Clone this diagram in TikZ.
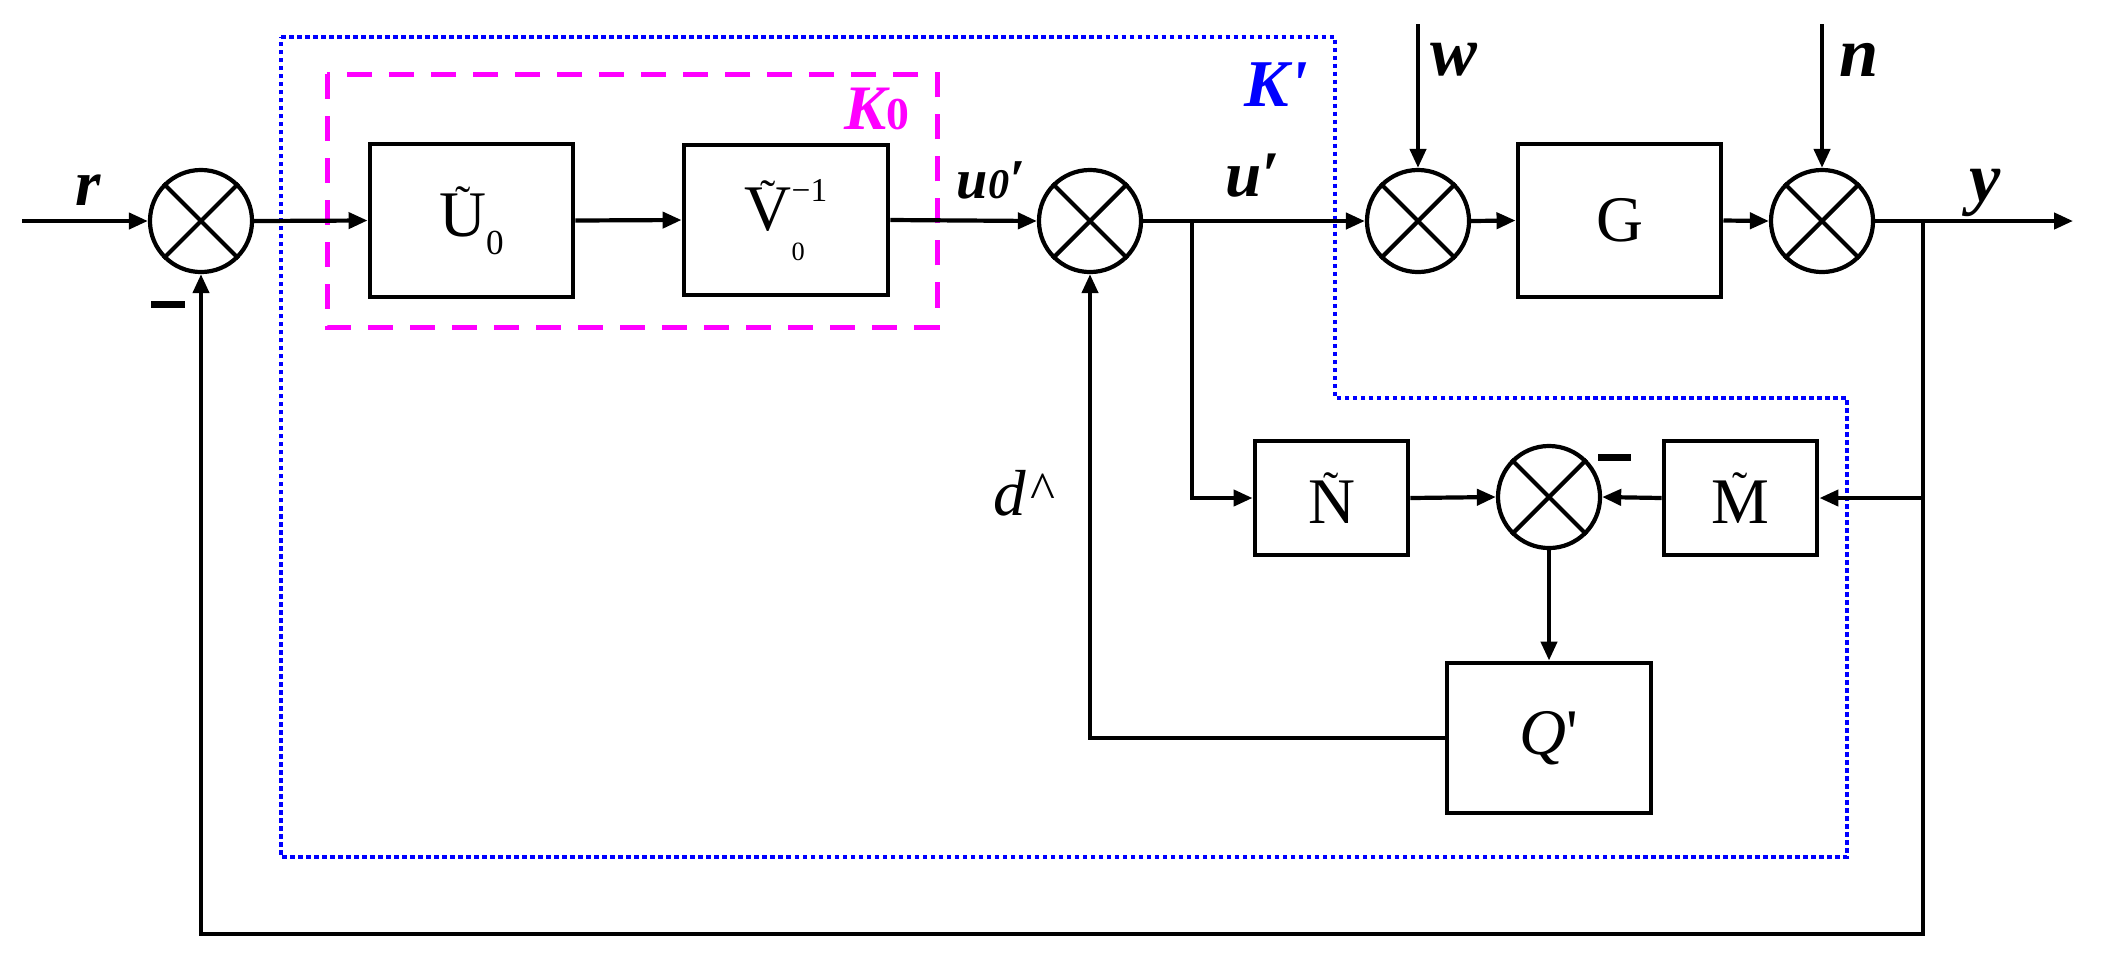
\documentclass[tikz,border=0pt]{standalone}
\usepackage{fontspec}
\setmainfont{Liberation Serif}
\newfontfamily\plainserif{Liberation Serif}
\usetikzlibrary{arrows.meta}
\definecolor{kblue}{RGB}{0,0,255}
\definecolor{kmag}{RGB}{255,0,255}
\newcommand\tld[1]{{\setbox0\hbox{#1}\hbox to\wd0{\hss\raisebox{0.3em}{\fontsize{13}{13}\selectfont\char"02DC}\hss}\kern-\wd0\box0}}
\begin{document}
\begin{tikzpicture}[x=0.01cm,y=-0.01cm,
  line width=0.042cm,
  arr/.style={-{Triangle[length=0.19cm,width=0.16cm]}},
  blk/.style={draw,line width=0.048cm,rectangle,inner sep=0pt,font=\fontsize{18.5}{20}\selectfont},
  sumj/.style={draw,circle,minimum size=1.02cm,inner sep=0pt,line width=0.042cm},
  lbl/.style={inner sep=0pt,font=\fontsize{20}{22}\selectfont\bfseries\itshape},
  mns/.style={fill=black,draw=none,inner sep=0pt,minimum width=0.33cm,minimum height=0.07cm},
]
\useasboundingbox (0,0) rectangle (2113,975);

% dashed enclosures
\draw[kblue,line width=0.04cm,dash pattern=on 0.045cm off 0.035cm]
  (281,37) -- (1335,37) -- (1335,398) -- (1847,398) -- (1847,857) -- (281,857) -- cycle;
\draw[kmag,line width=0.05cm,dash pattern=on 0.25cm off 0.17cm] (327,74) rectangle (937,327);

% summing junctions
\node[sumj] (s1) at (201,221) {};
\node[sumj] (s2) at (1090,221) {};
\node[sumj] (s3) at (1418,221) {};
\node[sumj] (s4) at (1822,221) {};
\node[sumj] (s5) at (1549,497) {};
\foreach \s in {s1,s2,s3,s4,s5}{
  \draw (\s.north west) -- (\s.south east) (\s.north east) -- (\s.south west);}

% blocks
\node[blk,minimum width=2.03cm,minimum height=1.53cm] (U) at (471.5,220.5)
  {\tld{U}\raisebox{-5pt}{\fontsize{10}{10}\selectfont 0}};
\node[blk,minimum width=2.04cm,minimum height=1.50cm] (V) at (786,220)
  {\tld{V}\rlap{\raisebox{-8.5pt}{\fontsize{7.5}{7.5}\selectfont 0}}\raisebox{8.5pt}{\fontsize{9.5}{9.5}\selectfont −1}};
\node[blk,minimum width=2.03cm,minimum height=1.53cm] (G) at (1619.5,220.5) {G};
\node[blk,minimum width=1.53cm,minimum height=1.14cm] (N) at (1331.5,498) {\tld{N}};
\node[blk,minimum width=1.53cm,minimum height=1.14cm] (M) at (1740.5,498) {\tld{M}};
\node[blk,minimum width=2.04cm,minimum height=1.50cm] (Q) at (1549,738) {\itshape Q\upshape{\plainserif '}};

% minus signs
\node[mns] (m1) at (168,304) {};
\node[mns] (m2) at (1614,457) {};

% labels
\node[lbl,font=\fontsize{18.5}{20}\selectfont\bfseries\itshape] (rl) at (88,190) {r};
\node[lbl,font=\fontsize{16}{18}\selectfont\bfseries\itshape] (u0l) at (991,180) {u{\fontsize{12}{12}\selectfont 0}′};
\node[lbl,font=\fontsize{18.5}{20}\selectfont\bfseries\itshape] (ul) at (1253,176) {u′};
\node[lbl] (wl) at (1454,60) {w};
\node[lbl] (nl) at (1859,60) {n};
\node[lbl] (yl) at (1985,193) {y};
\node[inner sep=0pt,text=kmag] (k0) at (877,109)
  {{\fontsize{18}{20}\selectfont\bfseries\itshape K}{\fontsize{13}{13}\selectfont\bfseries 0}};
\node[inner sep=0pt,text=kblue,font=\fontsize{19}{21}\selectfont\bfseries\itshape] (kp) at (1276,85)
  {K{\plainserif\bfseries\itshape '}};
\node[inner sep=0pt,font=\fontsize{18.5}{20}\selectfont\itshape] (dl) at (1023,493) {d\kern1pt\raisebox{2pt}{\fontsize{15}{15}\selectfont\char"5E}};

% coordinates
\coordinate (rin) at (22,221);
\coordinate (yout) at (2073,221);
\coordinate (win) at (1418,24);
\coordinate (nin) at (1822,24);
\coordinate (b1) at (1192,221);
\coordinate (b2) at (1923,221);
\coordinate (bot) at (1923,934);

% connectors
\draw[arr] (rin) -- (s1.west);
\draw[arr] (s1.east) -- (U.west);
\draw[arr] (U.east) -- (V.west);
\draw[arr] (V.east) -- (s2.west);
\draw[arr] (s2.east) -- (s3.west);
\draw[arr] (s3.east) -- (G.west);
\draw[arr] (G.east) -- (s4.west);
\draw[arr] (s4.east) -- (yout);
\draw[arr] (win) -- (s3.north);
\draw[arr] (nin) -- (s4.north);
\draw[arr] (b1) |- (N.west);
\draw[arr] (N.east) -- (s5.west);
\draw[arr] (b2) |- (M.east);
\draw[arr] (M.west) -- (s5.east);
\draw[arr] (s5.south) -- (Q.north);
\draw[arr] (Q.west) -| (s2.south);
\draw[arr] (b2) -- (bot) -| (s1.south);
\end{tikzpicture}
\end{document}
